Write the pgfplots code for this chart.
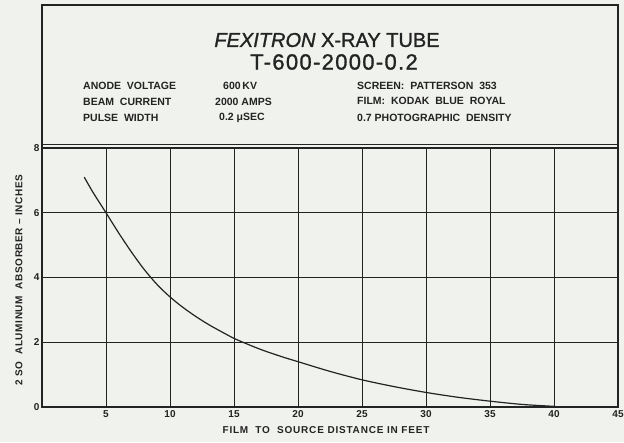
\documentclass[border=0pt]{standalone}
\usepackage{fontspec}
\setmainfont{Liberation Sans}
\usepackage{pgfplots}
\pgfplotsset{compat=1.18}
\definecolor{paper}{RGB}{240,242,237}
\definecolor{ink}{RGB}{35,35,35}
\begin{document}
\begin{tikzpicture}[x=1pt,y=1pt]
\fill[paper] (0,0) rectangle (624,442);
\path[use as bounding box] (0,0) rectangle (624,442);
\begin{axis}[
  at={(42pt,35pt)}, anchor=south west, scale only axis,
  width=576pt, height=259pt,
  xmin=0, xmax=45, ymin=0, ymax=8,
  xtick={5,10,...,45}, ytick={0,2,4,6,8},
  grid=major,
  major grid style={line width=0.95pt, draw=ink},
  major tick length=0pt,
  axis line style={line width=1.3pt, draw=ink},
  /pgf/number format/assume math mode=true,
  tick label style={font=\bfseries\fontsize{10}{12}\selectfont, text=ink},
  yticklabel style={xshift=1pt},
  clip=false,
]
\addplot[ink, line width=1.2pt, smooth, tension=0.5] coordinates {
 (3.3,7.1) (4,6.62) (5,6.0) (6,5.37) (7,4.78) (8,4.24) (9,3.78) (10,3.4)
 (11,3.08) (12,2.8) (13,2.55) (14,2.33) (15,2.12) (16,1.95) (17,1.79)
 (18,1.65) (19,1.52) (20,1.4) (22.5,1.1) (25,0.84)
 (27.5,0.63) (30,0.45) (32.5,0.3) (35,0.18) (37.5,0.08) (40,0.02)
};
\draw[ink, line width=2.6pt] (rel axis cs:0,0) -- (rel axis cs:1,0);
\draw[ink, line width=2.6pt] (rel axis cs:0,0) -- (rel axis cs:0,1);
\end{axis}
% title box
\draw[ink, line width=1.3pt] (42,297.5) -- (618,297.5);
\draw[ink, line width=1.8pt] (618,294) -- (618,437) -- (41,437);
\draw[ink, line width=2.6pt] (42,35) -- (42,437.5);
\node[font=\fontsize{20}{24}\selectfont, text=ink] at (327,402) {\addfontfeature{FakeBold=1.2}\textit{FEXITRON} X-RAY TUBE};
\node[font=\fontsize{22}{26}\selectfont, text=ink] at (334,380) {\addfontfeature{LetterSpace=6,FakeBold=1.2}T-600-2000-0.2};
\begin{scope}[every node/.style={font=\bfseries\fontsize{10.5}{12}\selectfont, text=ink, anchor=west, inner sep=0pt}]
\node at (83,356) {ANODE\ \ VOLTAGE};
\node at (83,340) {BEAM\ \ CURRENT};
\node at (83,324) {PULSE\ \ WIDTH};
\node at (223,356) {600\,KV};
\node at (215,340) {2000 AMPS};
\node at (219,324) {0.2 μSEC};
\node at (357,356.5) {SCREEN:\ \ PATTERSON\ \ 353};
\node at (357,341) {FILM:\ \ KODAK\ \ BLUE\ \ ROYAL};
\node at (357,324.5) {0.7 PHOTOGRAPHIC\ \ DENSITY};
\end{scope}
\node[font=\bfseries\fontsize{10}{12}\selectfont, text=ink] at (326,12) {\addfontfeature{LetterSpace=8}FILM\ \ TO\ \ SOURCE DISTANCE IN FEET};
\node[font=\bfseries\fontsize{10}{12}\selectfont, text=ink, rotate=90] at (19,162) {\addfontfeature{LetterSpace=6}2 SO\ \ ALUMINUM\ \ ABSORBER -- INCHES};
\end{tikzpicture}
\end{document}
